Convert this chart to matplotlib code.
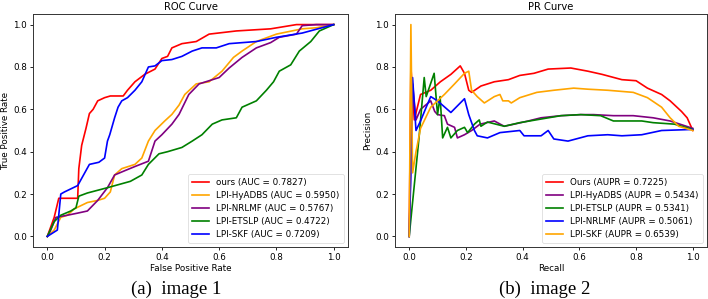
import matplotlib
matplotlib.use("Agg")
import matplotlib.pyplot as plt

# ROC curves (false positive rate, true positive rate)
roc_ours_x = [0, 0.024, 0.04, 0.106, 0.11, 0.12, 0.135, 0.147, 0.16, 0.176, 0.2, 0.22, 0.265,
              0.28, 0.306, 0.34, 0.376, 0.4, 0.42, 0.435, 0.47, 0.52, 0.565, 0.66, 0.78, 0.87, 1.0]
roc_ours_y = [0, 0.09, 0.18, 0.18, 0.32, 0.43, 0.51, 0.58, 0.60, 0.64, 0.655, 0.663, 0.663,
              0.69, 0.73, 0.765, 0.79, 0.84, 0.85, 0.89, 0.91, 0.92, 0.955, 0.97, 0.98, 1.0, 1.0]

roc_hy_x = [0, 0.024, 0.047, 0.07, 0.094, 0.14, 0.176, 0.2, 0.22, 0.235, 0.26, 0.306, 0.33,
            0.353, 0.376, 0.41, 0.435, 0.46, 0.48, 0.52, 0.565, 0.61, 0.65, 0.68, 0.73, 0.8,
            0.89, 0.94, 1.0]
roc_hy_y = [0, 0.03, 0.09, 0.10, 0.13, 0.16, 0.17, 0.18, 0.21, 0.29, 0.32, 0.34, 0.37,
            0.45, 0.50, 0.545, 0.576, 0.62, 0.67, 0.72, 0.73, 0.78, 0.845, 0.875, 0.92, 0.955,
            0.98, 0.985, 1.0]

roc_nr_x = [0, 0.012, 0.03, 0.07, 0.106, 0.14, 0.176, 0.21, 0.235, 0.27, 0.306, 0.353, 0.376,
            0.4, 0.435, 0.46, 0.494, 0.53, 0.565, 0.6, 0.635, 0.68, 0.73, 0.78, 0.81, 0.87,
            0.89, 0.94, 1.0]
roc_nr_y = [0, 0.03, 0.09, 0.10, 0.11, 0.12, 0.17, 0.23, 0.29, 0.31, 0.33, 0.355, 0.45,
            0.48, 0.53, 0.576, 0.67, 0.72, 0.735, 0.75, 0.795, 0.845, 0.89, 0.915, 0.94, 0.955,
            0.995, 1.0, 1.0]

roc_et_x = [0, 0.024, 0.047, 0.082, 0.1, 0.11, 0.14, 0.21, 0.29, 0.33, 0.353, 0.39, 0.42,
            0.47, 0.506, 0.54, 0.576, 0.61, 0.66, 0.68, 0.73, 0.765, 0.79, 0.81, 0.85, 0.88,
            0.92, 0.95, 1.0]
roc_et_y = [0, 0.07, 0.10, 0.12, 0.135, 0.19, 0.205, 0.23, 0.26, 0.29, 0.34, 0.39, 0.40,
            0.42, 0.45, 0.48, 0.53, 0.55, 0.56, 0.61, 0.64, 0.69, 0.73, 0.78, 0.81, 0.875,
            0.92, 0.97, 1.0]

roc_skf_x = [0, 0.035, 0.047, 0.06, 0.106, 0.147, 0.18, 0.2, 0.21, 0.218, 0.235, 0.247, 0.26,
             0.28, 0.306, 0.33, 0.353, 0.376, 0.4, 0.435, 0.47, 0.506, 0.54, 0.59, 0.635,
             0.73, 0.8, 0.89, 1.0]
roc_skf_y = [0, 0.03, 0.2, 0.21, 0.24, 0.34, 0.35, 0.37, 0.45, 0.48, 0.56, 0.61, 0.64,
             0.655, 0.69, 0.73, 0.80, 0.805, 0.83, 0.835, 0.85, 0.875, 0.89, 0.89, 0.91,
             0.92, 0.94, 0.96, 1.0]

# PR curves (recall, precision)
pr_ours_x = [0.0, 0.006, 0.018, 0.04, 0.076, 0.11, 0.147, 0.18, 0.195, 0.21, 0.22, 0.253, 0.3,
             0.35, 0.39, 0.44, 0.49, 0.57, 0.63, 0.68, 0.75, 0.8, 0.84, 0.89, 0.92, 0.96, 0.98, 1.0]
pr_ours_y = [0.0, 0.8, 0.55, 0.67, 0.69, 0.73, 0.765, 0.805, 0.77, 0.69, 0.68, 0.71, 0.73,
             0.74, 0.76, 0.77, 0.79, 0.795, 0.78, 0.765, 0.74, 0.735, 0.70, 0.67, 0.64, 0.59, 0.56, 0.5]

pr_hy_x = [0.0, 0.012, 0.024, 0.04, 0.076, 0.09, 0.1, 0.124, 0.135, 0.16, 0.17, 0.195, 0.22,
           0.25, 0.3, 0.335, 0.37, 0.42, 0.465, 0.535, 0.605, 0.65, 0.72, 0.79, 0.86, 0.92, 1.0]
pr_hy_y = [0.0, 0.72, 0.55, 0.60, 0.64, 0.59, 0.575, 0.57, 0.53, 0.515, 0.465, 0.48, 0.50,
           0.53, 0.545, 0.52, 0.53, 0.545, 0.56, 0.57, 0.575, 0.575, 0.57, 0.57, 0.56, 0.545, 0.51]

pr_et_x = [0.0, 0.035, 0.053, 0.06, 0.088, 0.1, 0.109, 0.118, 0.135, 0.147, 0.17, 0.195, 0.206,
           0.23, 0.247, 0.253, 0.276, 0.335, 0.39, 0.46, 0.535, 0.605, 0.675, 0.72, 0.77, 0.82,
           0.86, 0.935, 1.0]
pr_et_y = [0.0, 0.47, 0.75, 0.66, 0.77, 0.575, 0.66, 0.465, 0.515, 0.465, 0.50, 0.515, 0.49,
           0.53, 0.55, 0.52, 0.54, 0.52, 0.537, 0.553, 0.57, 0.575, 0.57, 0.545, 0.545, 0.545,
           0.537, 0.53, 0.505]

pr_nr_x = [0.0, 0.005, 0.012, 0.024, 0.04, 0.06, 0.076, 0.1, 0.147, 0.195, 0.21, 0.23, 0.24,
           0.276, 0.32, 0.39, 0.405, 0.465, 0.49, 0.51, 0.56, 0.63, 0.7, 0.75, 0.82, 0.89, 1.0]
pr_nr_y = [0.0, 0.25, 0.75, 0.5, 0.545, 0.61, 0.66, 0.64, 0.585, 0.65, 0.575, 0.50, 0.475,
           0.465, 0.49, 0.50, 0.475, 0.475, 0.50, 0.46, 0.45, 0.475, 0.48, 0.475, 0.48, 0.50, 0.505]

pr_skf_x = [0.0, 0.006, 0.012, 0.024, 0.04, 0.076, 0.124, 0.16, 0.195, 0.21, 0.22, 0.24, 0.265,
            0.3, 0.32, 0.33, 0.35, 0.36, 0.39, 0.45, 0.51, 0.58, 0.63, 0.7, 0.79, 0.84, 0.89,
            0.92, 0.95, 1.0]
pr_skf_y = [0.0, 1.0, 0.3, 0.4, 0.51, 0.61, 0.67, 0.72, 0.77, 0.78, 0.69, 0.66, 0.63,
            0.66, 0.67, 0.64, 0.64, 0.63, 0.655, 0.68, 0.69, 0.70, 0.695, 0.69, 0.68, 0.655,
            0.61, 0.56, 0.52, 0.5]

roc_series = [
    (roc_ours_x, roc_ours_y, "red", "ours (AUC = 0.7827)"),
    (roc_hy_x, roc_hy_y, "orange", "LPI-HyADBS (AUC = 0.5950)"),
    (roc_nr_x, roc_nr_y, "purple", "LPI-NRLMF (AUC = 0.5767)"),
    (roc_et_x, roc_et_y, "green", "LPI-ETSLP (AUC = 0.4722)"),
    (roc_skf_x, roc_skf_y, "blue", "LPI-SKF (AUC = 0.7209)"),
]
pr_series = [
    (pr_ours_x, pr_ours_y, "red", "Ours (AUPR = 0.7225)"),
    (pr_hy_x, pr_hy_y, "purple", "LPI-HyADBS (AUPR = 0.5434)"),
    (pr_et_x, pr_et_y, "green", "LPI-ETSLP (AUPR = 0.5341)"),
    (pr_nr_x, pr_nr_y, "blue", "LPI-NRLMF (AUPR = 0.5061)"),
    (pr_skf_x, pr_skf_y, "orange", "LPI-SKF (AUPR = 0.6539)"),
]

FS = 6.3
fig = plt.figure(figsize=(7.08, 2.99), dpi=100)
ax1 = fig.add_axes([33 / 708, 52 / 299, 315 / 708, 233 / 299])
ax2 = fig.add_axes([395 / 708, 52 / 299, 312 / 708, 233 / 299])


def panel(ax, series, title, xlabel, ylabel):
    for xs, ys, c, lab in series:
        ax.plot(xs, ys, color=c, lw=1.2, label=lab)
    ax.set_xlim(-0.05, 1.05)
    ax.set_ylim(-0.05, 1.05)
    ax.set_title(title, fontsize=7.2, pad=3)
    ax.set_xlabel(xlabel, fontsize=FS, labelpad=1.5)
    ax.set_ylabel(ylabel, fontsize=FS, labelpad=2)
    ax.tick_params(labelsize=FS, length=2.5, width=0.6, pad=2)
    for s in ax.spines.values():
        s.set_linewidth(0.7)
        s.set_color("#333333")
    leg = ax.legend(loc="lower right", fontsize=FS, handlelength=2.0,
                    borderpad=0.45, labelspacing=0.45, framealpha=0.8)
    leg.get_frame().set_linewidth(0.5)


panel(ax1, roc_series, "ROC Curve", "False Positive Rate", "True Positive Rate")
panel(ax2, pr_series, "PR Curve", "Recall", "Precision")

fig.text(176 / 708, 1 - 289 / 299, "(a)  image 1", fontsize=13.5, family="Liberation Serif",
         ha="center", va="center")
fig.text(545 / 708, 1 - 289 / 299, "(b)  image 2", fontsize=13.5, family="Liberation Serif",
         ha="center", va="center")

fig.savefig("out.png", dpi=100)
